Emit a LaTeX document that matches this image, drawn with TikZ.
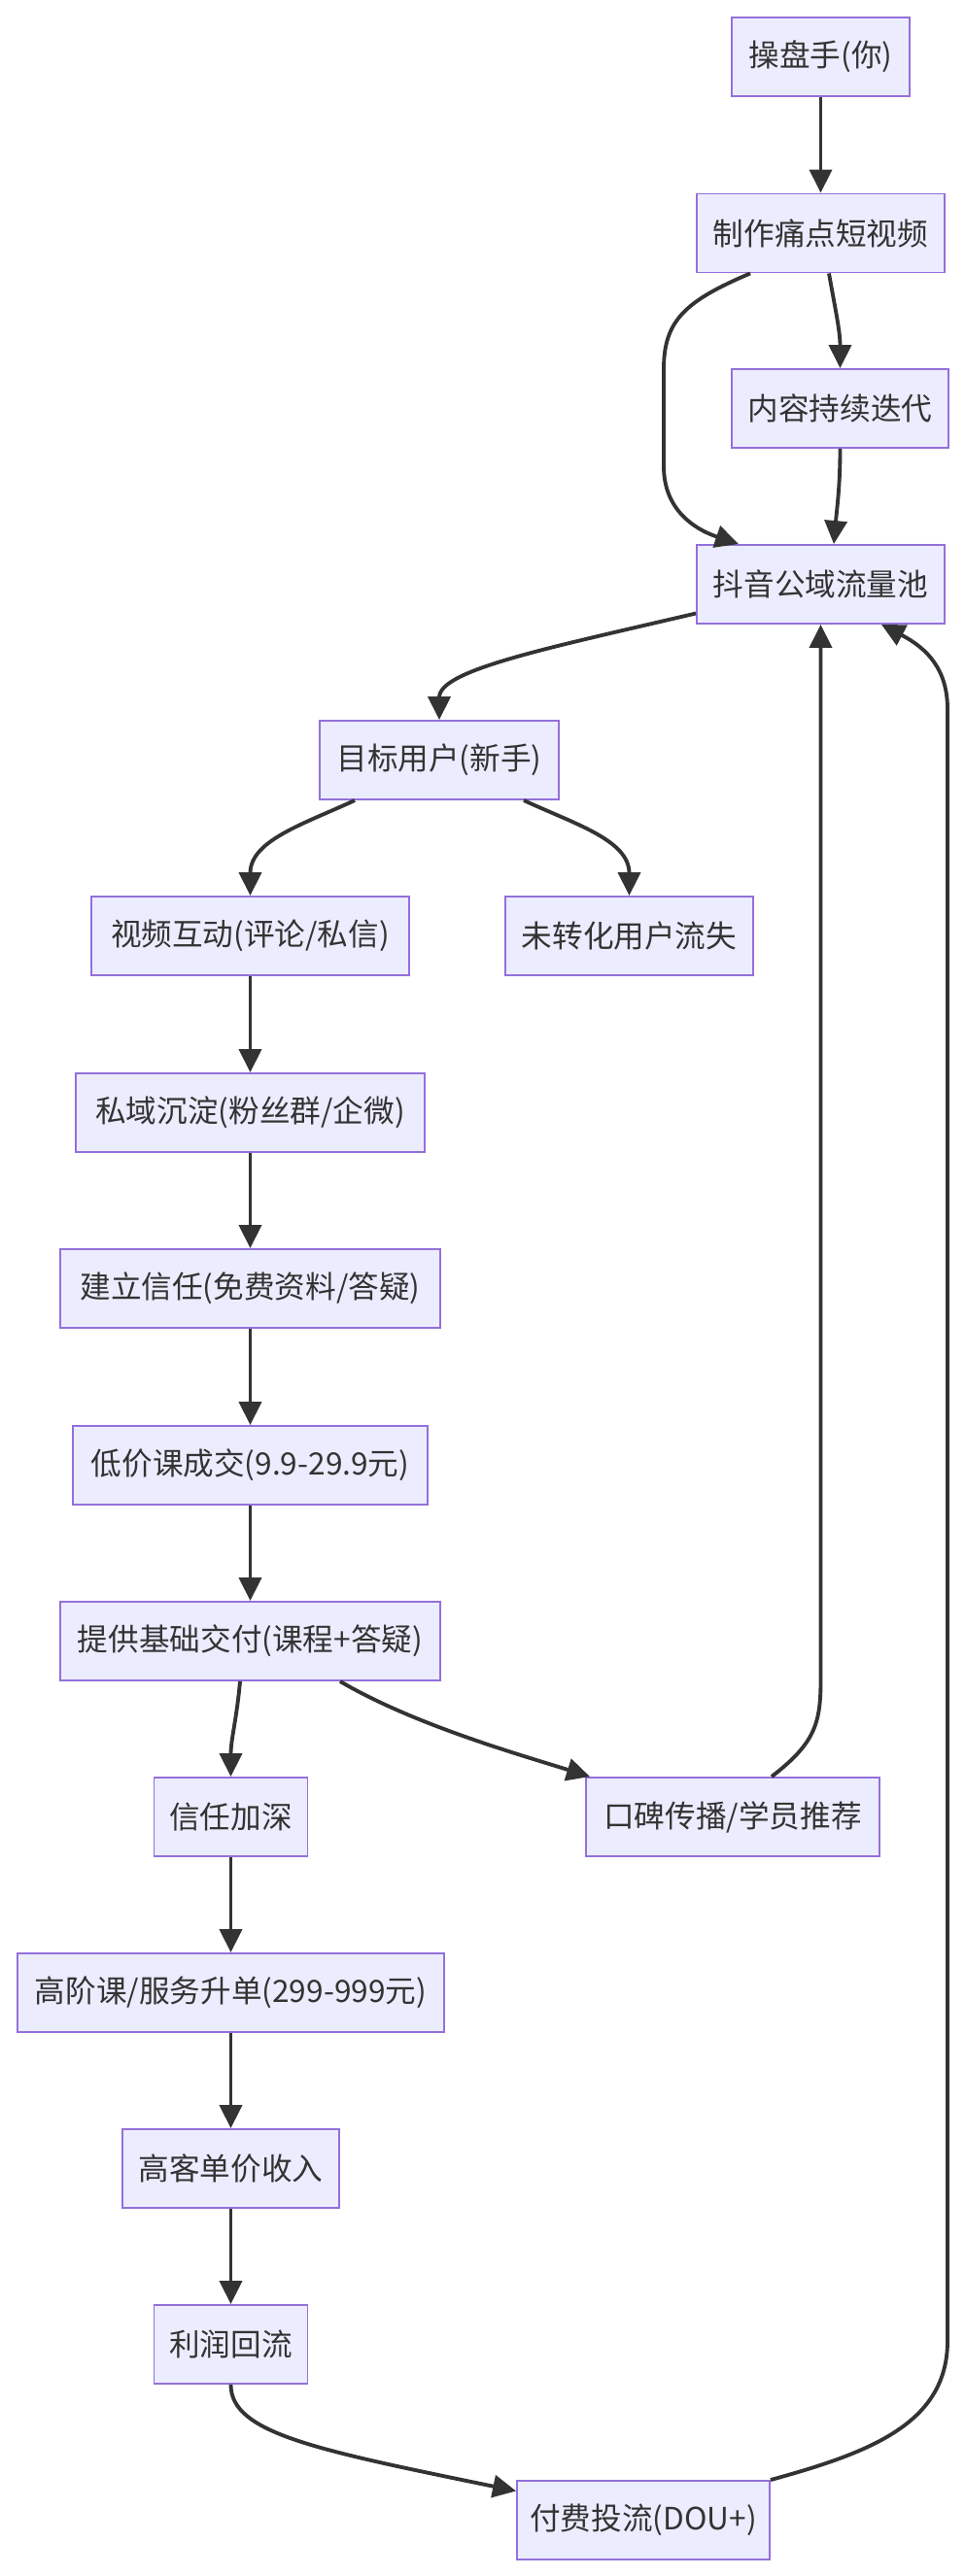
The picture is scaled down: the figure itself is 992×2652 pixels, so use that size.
\documentclass[tikz,border=0pt]{standalone}
\usepackage{fontspec}
\setmainfont{Noto Sans CJK SC}
\usepackage{tikz}
\usetikzlibrary{arrows.meta,calc}
\definecolor{edge}{HTML}{9370DB}
\definecolor{wash}{HTML}{ECECFF}
\definecolor{ink}{HTML}{333333}

\begin{document}
\begin{tikzpicture}[
  x=0.02cm,y=-0.02cm,
  stage/.style={draw=edge,fill=wash,line width=1.1pt,minimum height=1.62cm,
                inner xsep=0pt,font=\fontsize{18}{22}\selectfont,text=ink},
  ar/.style={-{Triangle[length=0.48cm,width=0.46cm]},draw=ink,line width=2.2pt}
]
\useasboundingbox[fill=white] (0,0) rectangle (992,2652);

\node[stage,minimum width=3.66cm] (a) at (844.5,58.5) {操盘手(你)};
\node[stage,minimum width=5.1cm] (b) at (844.5,240) {制作痛点短视频};
\node[stage,minimum width=4.46cm] (c) at (864.5,420.5) {内容持续迭代};
\node[stage,minimum width=5.1cm] (d) at (844.5,601.5) {抖音公域流量池};
\node[stage,minimum width=4.92cm] (e) at (452,782.5) {目标用户(新手)};
\node[stage,minimum width=6.54cm] (f) at (257.5,963.5) {视频互动(评论/私信)};
\node[stage,minimum width=5.1cm] (g) at (647.5,963.5) {未转化用户流失};
\node[stage,minimum width=7.18cm] (h) at (257.5,1145.5) {私域沉淀(粉丝群/企微)};
\node[stage,minimum width=7.82cm] (i) at (257.5,1326.5) {建立信任(免费资料/答疑)};
\node[stage,minimum width=7.3cm] (j) at (257.5,1508.5) {低价课成交(9.9-29.9元)};
\node[stage,minimum width=7.82cm] (k) at (257.5,1689.5) {提供基础交付(课程+答疑)};
\node[stage,minimum width=3.16cm] (l) at (237.5,1870.5) {信任加深};
\node[stage,minimum width=6.04cm] (m) at (754,1870.5) {口碑传播/学员推荐};
\node[stage,minimum width=8.78cm] (n) at (237.5,2051.5) {高阶课/服务升单(299-999元)};
\node[stage,minimum width=4.46cm] (o) at (237.5,2232.5) {高客单价收入};
\node[stage,minimum width=3.16cm] (p) at (237.5,2413.5) {利润回流};
\node[stage,minimum width=5.2cm] (q) at (662,2594.5) {付费投流(DOU+)};

\draw[ar] (a) -- (b);
\draw[ar] ([xshift=0.17cm]b.south) to[out=-80,in=90] (c.north);
\draw[ar] ([xshift=-1.45cm]b.south) .. controls (705,310) and (683,330) .. (683,380)
  -- (683,480) .. controls (683,525) and (715,545) .. ([xshift=-1.69cm]d.north);
\draw[ar] (c.south) to[out=-90,in=85] ([xshift=0.27cm]d.north);
\draw[ar] ([yshift=-0.6cm]d.west) .. controls (560,668) and (452,690) .. (e.north);
\draw[ar] ([xshift=-1.74cm]e.south) to[out=-155,in=90] (f.north);
\draw[ar] ([xshift=1.74cm]e.south) to[out=-25,in=90] (g.north);
\draw[ar] (f) -- (h);
\draw[ar] (h) -- (i);
\draw[ar] (i) -- (j);
\draw[ar] (j) -- (k);
\draw[ar] ([xshift=-0.21cm]k.south) to[out=-95,in=90] (l.north);
\draw[ar] ([xshift=1.85cm]k.south) .. controls (425,1775) and (530,1805) .. ([xshift=0.1cm]m.north west);
\draw[ar] ([xshift=0.8cm]m.north) .. controls (838,1795) and (844.5,1775) .. (844.5,1730) -- (d.south);
\draw[ar] (l) -- (n);
\draw[ar] (n) -- (o);
\draw[ar] (o) -- (p);
\draw[ar] (p.south) .. controls (237.5,2505) and (325,2522) .. ([yshift=0.6cm]q.west);
\draw[ar] (q.north east) .. controls (895,2525) and (975,2495) .. (975,2410)
  -- (975,730) .. controls (975,690) and (955,668) .. ([xshift=1.25cm]d.south);
\end{tikzpicture}
\end{document}
